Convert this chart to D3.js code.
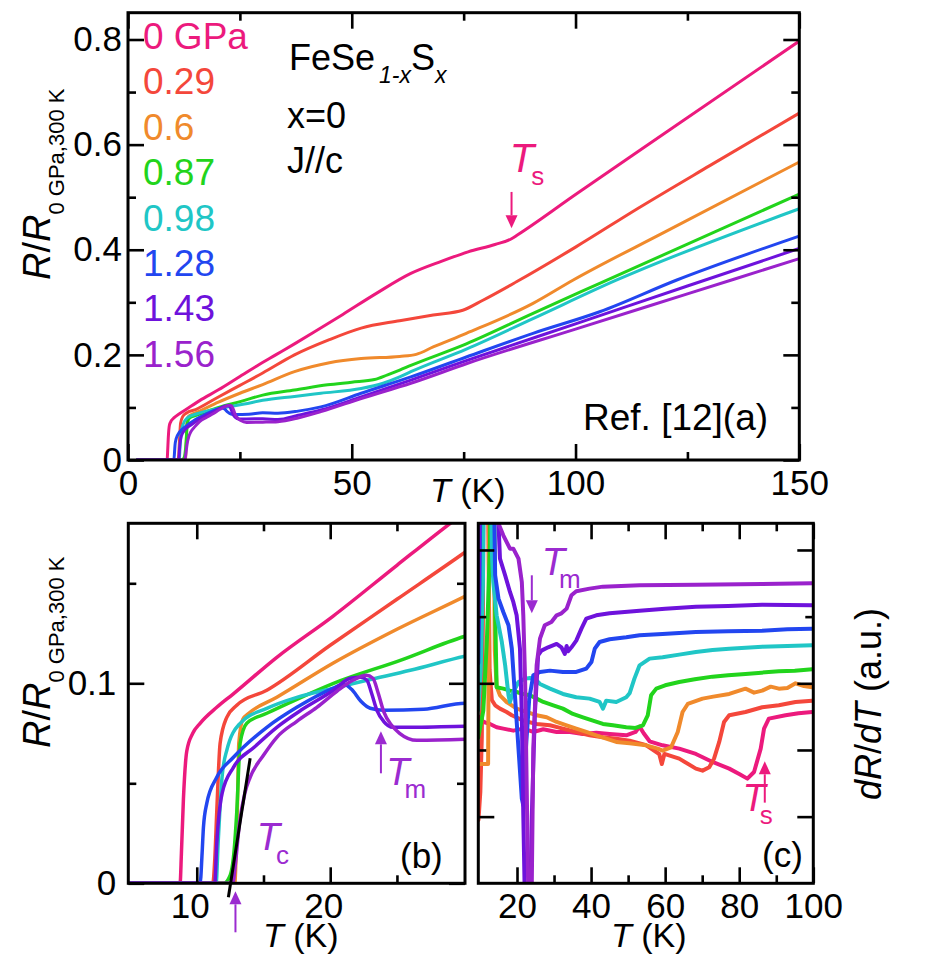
<!DOCTYPE html>
<html><head><meta charset="utf-8">
<script src="https://d3js.org/d3.v7.min.js"></script>
<style>
body{margin:0;background:#fff}
svg{display:block}
text{font-family:"Liberation Sans",Arial,Helvetica,sans-serif;fill:#000}
</style>
</head><body>
<svg id="chart" width="946" height="975"></svg>
<script>
// ---------------- DATA ----------------
const pressures = ["0 GPa","0.29","0.6","0.87","0.98","1.28","1.43","1.56"];
const colors = ["#ec1a7d","#f4473b","#f08a2c","#22d41c","#20c6c6","#2246f0","#6e12dc","#9a22cc"];

// R / R(0 GPa, 300 K) versus T (K)
const r000 = [[2,0],[8.75,0],[8.85,0.015],[9.0,0.042],[9.25,0.066],[9.7,0.075],[10.25,0.08],[11.5,0.088],[12.7,0.0945],[16,0.113],[20.2,0.1335],[25,0.159],[28.8,0.179],[33,0.2],[37.2,0.221],[41.5,0.243],[48,0.277],[55.5,0.317],[63.2,0.355],[70,0.378],[76,0.396],[82,0.41],[85.7,0.421],[87,0.428],[100,0.505],[120,0.622],[150,0.797]];
const r029 = [[2,0],[11.2,0],[11.35,0.012],[11.5,0.036],[11.75,0.07],[12.25,0.083],[13,0.089],[15.25,0.0965],[20,0.119],[25,0.142],[30.1,0.1655],[37.2,0.2],[45,0.229],[52.1,0.251],[60.7,0.265],[68.2,0.276],[74.8,0.285],[79.3,0.304],[86.8,0.339],[100,0.405],[114,0.479],[130,0.56],[150,0.66]];
const r060 = [[2,0],[12.85,0],[12.95,0.015],[13.05,0.04],[13.15,0.07],[13.45,0.082],[13.9,0.085],[16,0.093],[20.2,0.11],[25,0.127],[30.1,0.1435],[37.2,0.168],[45,0.185],[52.1,0.193],[60.7,0.197],[64.4,0.201],[68.2,0.215],[75.6,0.241],[90.5,0.298],[99.4,0.342],[120,0.434],[150,0.567]];
const r087 = [[2,0],[12.0,0],[12.5,0.004],[12.75,0.013],[13.0,0.036],[13.25,0.07],[13.75,0.08],[15.25,0.085],[17.5,0.092],[20.25,0.1],[25.25,0.1115],[30.1,0.1235],[37.2,0.133],[44.6,0.143],[50,0.148],[55.1,0.153],[58,0.162],[60.7,0.171],[63.2,0.18],[75.6,0.221],[90.5,0.279],[105.4,0.336],[150,0.506]];
const r098 = [[2,0],[11.45,0],[11.6,0.02],[11.9,0.0535],[12.25,0.0665],[13.25,0.08],[15.25,0.0875],[17.5,0.093],[20.25,0.0975],[22.75,0.1015],[26,0.1065],[30.1,0.1135],[37.2,0.121],[43.1,0.127],[52.1,0.136],[57,0.146],[60.7,0.158],[63.2,0.168],[75.6,0.211],[90.5,0.269],[109.1,0.342],[150,0.478]];
const r128 = [[2,0],[10.25,0],[10.4,0.015],[10.5,0.028],[10.75,0.04],[11.5,0.053],[12.75,0.063],[15.25,0.078],[17.5,0.088],[20.2,0.0975],[21,0.0995],[21.6,0.097],[22.3,0.091],[23,0.0875],[24,0.0865],[27,0.087],[30.1,0.09],[33.5,0.089],[38,0.093],[43.1,0.101],[52.1,0.127],[63.2,0.158],[75.6,0.196],[90.5,0.241],[105.4,0.282],[122.5,0.342],[150,0.426]];
const r143 = [[2,0],[11.35,0],[11.5,0.02],[11.9,0.045],[12.75,0.058],[14.3,0.068],[16,0.078],[17.8,0.0865],[20.25,0.0965],[21.5,0.1025],[22.3,0.103],[22.75,0.1015],[23.1,0.095],[23.5,0.0865],[24,0.081],[24.7,0.078],[26.5,0.078],[30.1,0.0785],[33.5,0.077],[38,0.085],[43.1,0.095],[52.1,0.12],[63.2,0.152],[75.9,0.19],[100,0.259],[125,0.331],[150,0.4025]];
const r156 = [[2,0],[12.7,0],[12.9,0.01],[13.2,0.03],[13.6,0.045],[14,0.053],[15,0.064],[16,0.073],[17.5,0.081],[19,0.088],[20.5,0.096],[21.7,0.1015],[22.7,0.104],[23.2,0.1025],[23.6,0.095],[24,0.086],[24.6,0.079],[25.2,0.075],[26.5,0.0715],[30.1,0.072],[33.5,0.073],[38,0.08],[43.1,0.092],[52.1,0.117],[63.2,0.146],[75.9,0.184],[100,0.249],[125,0.316],[150,0.383]];

// dR/dT (arbitrary units, curves offset) versus T (K)
const d000 = [[9.6,2.5],[10.3,2.44],[11.5,2.41],[12.7,2.39],[14.5,2.34],[16.3,2.32],[19,2.29],[21.7,2.32],[24.4,2.27],[27.1,2.31],[30.7,2.27],[34.3,2.27],[37.8,2.24],[41.4,2.26],[45,2.24],[49.5,2.22],[52,2.27],[53.1,2.35],[54.2,2.25],[55.8,2.13],[59.3,2.07],[63.8,2.02],[68.3,1.94],[72.8,1.82],[77.3,1.72],[80,1.64],[82.2,1.57],[84,1.67],[85.8,2.02],[86.7,2.32],[88,2.47],[92.5,2.52],[96,2.55],[99.7,2.57]];
const d029 = [[9.6,0.95],[10.1,1.37],[10.5,2.2],[10.8,4],[11.0,7],[12.0,7],[12.6,3.2],[13.2,2.75],[14.1,2.67],[15.4,2.62],[17.2,2.57],[18.6,2.52],[21.7,2.44],[25.3,2.39],[28.9,2.37],[32.4,2.32],[36,2.27],[39.6,2.22],[43.2,2.19],[46.8,2.17],[50.4,2.14],[54.9,2.07],[58.4,1.94],[59.1,1.79],[59.8,1.94],[63.8,1.87],[68.3,1.72],[70.1,1.69],[71.9,1.74],[73.2,1.87],[74.6,2.12],[75.9,2.42],[77.3,2.52],[81.7,2.57],[86.2,2.64],[90.7,2.67],[95.2,2.72],[99.7,2.74]];
const d060 = [[9.6,1.79],[12.2,1.79],[12.4,4],[12.6,7],[13.6,7],[14.0,3.5],[14.5,2.95],[15.4,2.82],[17.2,2.72],[19.9,2.62],[22.6,2.57],[25.3,2.52],[28,2.49],[30.7,2.42],[33.4,2.37],[36,2.32],[38.7,2.27],[41.4,2.22],[44.1,2.17],[46.8,2.12],[50.4,2.1],[54.9,2.07],[58,2.02],[59.3,1.99],[61.6,2.04],[63.4,2.27],[64.7,2.57],[66.1,2.69],[70.1,2.77],[73,2.8],[77.3,2.84],[81.7,2.92],[84,2.86],[86.2,2.89],[88.5,2.95],[90.7,2.92],[93,2.93],[95.2,3.0],[97.5,2.96],[99.7,2.94]];
const d087 = [[9.55,2.19],[10.9,2.59],[11.9,3.69],[12.7,5.09],[13,7],[13.6,7],[14.1,4.09],[14.5,2.94],[16.3,2.92],[18.1,2.89],[19.9,2.87],[21.7,2.84],[23.5,2.82],[25.3,2.77],[27.1,2.72],[29.8,2.67],[32.4,2.62],[35.1,2.54],[37.8,2.49],[40.5,2.44],[43.2,2.39],[45.9,2.37],[49.5,2.34],[52,2.33],[54,2.37],[55.3,2.52],[56.2,2.82],[57.6,2.92],[60,2.97],[63.8,3.02],[68,3.06],[72.8,3.1],[77,3.12],[81.7,3.14],[86,3.16],[90.7,3.18],[95,3.19],[99.7,3.21]];
const d098 = [[9.55,2.6],[10.2,3.2],[10.8,4.5],[11.2,7],[12.8,7],[13.2,4.97],[13.6,4.52],[14.5,4.02],[15.9,3.62],[16.8,3.27],[17.7,2.82],[18.1,2.72],[19,2.87],[20.4,3.02],[22.2,3.07],[23.5,3.08],[24.8,3.07],[26.2,2.99],[28.9,2.92],[32.4,2.84],[36,2.79],[39.6,2.77],[42.3,2.72],[43.2,2.62],[44.1,2.74],[46.8,2.72],[49.5,2.79],[50.4,2.85],[51.7,3.07],[53.1,3.27],[55.8,3.37],[59.3,3.39],[63.8,3.43],[68.3,3.47],[72.8,3.5],[77.3,3.52],[86.2,3.55],[93,3.56],[99.7,3.57]];
const d128 = [[9.55,3.3],[9.9,4.5],[10.3,7],[13.5,7],[14.1,4.62],[15,4.27],[16.3,4.07],[17.7,3.87],[18.6,3.52],[19.5,2.77],[20.4,2.02],[21.3,1.27],[21.7,1.17],[22.4,2.02],[23.3,2.77],[24.4,3.12],[26.2,3.17],[28.9,3.19],[32.4,3.17],[36,3.17],[38.7,3.22],[40.1,3.32],[41,3.52],[42.3,3.62],[45,3.66],[49.5,3.69],[53.1,3.72],[59.3,3.74],[68.3,3.77],[77,3.78],[86.2,3.79],[93,3.81],[99.7,3.82]];
const d143 = [[9.55,3.8],[9.8,5],[10.1,7],[13.8,7],[15.4,4.87],[16.8,4.62],[18.1,4.37],[19,4.22],[19.9,4.02],[20.8,3.52],[21.3,2.52],[21.7,1.02],[22.2,-0.5],[22.8,-1.5],[23.5,-0.5],[24,1.0],[24.8,2.52],[25.7,3.42],[26.6,3.49],[28.4,3.54],[30.7,3.59],[32,3.54],[32.9,3.44],[33.4,3.56],[33.8,3.48],[34.7,3.54],[36,3.64],[37.4,3.82],[38.7,3.97],[41.4,4.02],[45,4.05],[53.1,4.09],[60,4.12],[68.3,4.15],[77,4.16],[86.2,4.18],[99.7,4.17]];
const d156 = [[9.55,7],[14.3,7],[14.6,5.45],[16.3,5.22],[18.1,5.02],[19,5.02],[20.4,4.87],[21.3,4.52],[21.7,4.02],[22.2,3.02],[22.6,1.52],[23.0,0.02],[23.4,-1.5],[23.7,-0.5],[24,0.02],[24.4,2.02],[25.3,3.27],[26.2,3.67],[27.5,3.87],[29.3,3.92],[30.7,4.02],[32,4.05],[33.4,4.12],[34.7,4.32],[36,4.38],[39.6,4.42],[43.2,4.45],[53.1,4.47],[68.3,4.48],[86.2,4.49],[99.7,4.5]];

// Tc extrapolation line (panel b)
const tcFit = [[12.37,-0.007],[14.0,0.0625]];

// Tick values
const aXMajor = [0,50,100,150], aXMinor = [25,75,125];
const aYMajor = [0,0.2,0.4,0.6,0.8], aYMinor = [0.1,0.3,0.5,0.7];
const bXMajor = [10,20], bXMinor = [15,25];
const bYMajor = [0,0.1], bYMinor = [0.05,0.15];
const cXMajor = [20,40,60,80,100], cXMinor = [30,50,70,90];
const cYMajorL = [1,3,5], cYMinorL = [2,4], cYMajorR = [1,2,3,5], cYMinorR = [4];

const seriesR = [r000,r029,r060,r087,r098,r128,r143,r156];
const seriesD = [d000,d029,d060,d087,d098,d128,d143,d156];

// ---------------- DRAWING ----------------
const svg = d3.select("#chart");
const FONT = "Liberation Sans, Arial, Helvetica, sans-serif";

const boxA = {x0:128, y0:12.7, x1:799.3, y1:460};
const boxB = {x0:128.3, y0:523.3, x1:465, y1:883.3};
const boxC = {x0:478.3, y0:523.3, x1:813.3, y1:883.3};

const xA = d3.scaleLinear().domain([0,150]).range([boxA.x0, boxA.x1]);
const yA = d3.scaleLinear().domain([0,0.851]).range([boxA.y1, boxA.y0]);
const xB = d3.scaleLinear().domain([4.87,30.1]).range([boxB.x0, boxB.x1]);
const yB = d3.scaleLinear().domain([0,0.18]).range([boxB.y1, boxB.y0]);
const xC = d3.scaleLinear().domain([9.55,100]).range([boxC.x0, boxC.x1]);
const yC = d3.scaleLinear().domain([0,5.4]).range([boxC.y1, boxC.y0]);

const defs = svg.append("defs");
function clip(id, b){
  defs.append("clipPath").attr("id",id).append("rect")
    .attr("x",b.x0).attr("y",b.y0).attr("width",b.x1-b.x0).attr("height",b.y1-b.y0);
}
clip("clipA",boxA); clip("clipB",boxB); clip("clipC",boxC);

function drawSeries(list, x, y, clipId, width, curve){
  const line = d3.line().x(d=>x(d[0])).y(d=>y(d[1])).curve(curve);
  const g = svg.append("g").attr("clip-path",`url(#${clipId})`);
  list.forEach((s,i)=>{
    g.append("path").datum(s).attr("d",line).attr("fill","none")
      .attr("stroke",colors[i]).attr("stroke-width",width)
      .attr("stroke-linejoin","round").attr("stroke-linecap","round");
  });
}
drawSeries(seriesR, xA, yA, "clipA", 3, d3.curveMonotoneX);
drawSeries(seriesR, xB, yB, "clipB", 3.5, d3.curveMonotoneX);
drawSeries(seriesD, xC, yC, "clipC", 4, d3.curveLinear);

// Tc fit line
svg.append("path").datum(tcFit)
  .attr("d", d3.line().x(d=>xB(d[0])).y(d=>yB(d[1])))
  .attr("stroke","#000").attr("stroke-width",3).attr("fill","none");

// frames
[boxA,boxB,boxC].forEach(b=>{
  svg.append("rect").attr("x",b.x0).attr("y",b.y0).attr("width",b.x1-b.x0).attr("height",b.y1-b.y0)
    .attr("fill","none").attr("stroke","#000").attr("stroke-width",3);
});

function styleAxis(sel, fs){
  sel.select(".domain").remove();
  sel.attr("font-family",null).attr("font-size",null);
  sel.selectAll("line").attr("stroke","#000").attr("stroke-width",2.6);
  sel.selectAll("text").style("font-size",fs+"px").style("font-family",FONT).attr("fill","#000");
}
function axes(x, y, b, o){
  const fs = 35;
  const gb = svg.append("g").attr("transform",`translate(0,${b.y1})`)
    .call(d3.axisBottom(x).tickValues(o.xMajor).tickSize(-16).tickPadding(10).tickFormat(o.xFmt));
  styleAxis(gb, fs);
  if (o.xDx) gb.selectAll("text").attr("dx", o.xDx);
  styleAxis(svg.append("g").attr("transform",`translate(0,${b.y1})`)
    .call(d3.axisBottom(x).tickValues(o.xMinor).tickSize(-8).tickFormat("")), fs);
  styleAxis(svg.append("g").attr("transform",`translate(0,${b.y0})`)
    .call(d3.axisTop(x).tickValues(o.xMajor).tickSize(-16).tickFormat("")), fs);
  styleAxis(svg.append("g").attr("transform",`translate(0,${b.y0})`)
    .call(d3.axisTop(x).tickValues(o.xMinor).tickSize(-8).tickFormat("")), fs);
  styleAxis(svg.append("g").attr("transform",`translate(${b.x0},0)`)
    .call(d3.axisLeft(y).tickValues(o.yMajorL).tickSize(-16).tickPadding(o.yPad).tickFormat(o.yFmt)), fs);
  styleAxis(svg.append("g").attr("transform",`translate(${b.x0},0)`)
    .call(d3.axisLeft(y).tickValues(o.yMinorL).tickSize(-8).tickFormat("")), fs);
  styleAxis(svg.append("g").attr("transform",`translate(${b.x1},0)`)
    .call(d3.axisRight(y).tickValues(o.yMajorR).tickSize(-16).tickFormat("")), fs);
  styleAxis(svg.append("g").attr("transform",`translate(${b.x1},0)`)
    .call(d3.axisRight(y).tickValues(o.yMinorR).tickSize(-8).tickFormat("")), fs);
}
const fmtY = d => d===0 ? "0" : d3.format(".1f")(d);
axes(xA, yA, boxA, {xMajor:aXMajor, xMinor:aXMinor, xFmt:d3.format("d"),
  yMajorL:aYMajor, yMinorL:aYMinor, yMajorR:aYMajor, yMinorR:aYMinor, yPad:6, yFmt:fmtY});
axes(xB, yB, boxB, {xMajor:bXMajor, xMinor:bXMinor, xFmt:d3.format("d"), xDx:-7,
  yMajorL:bYMajor, yMinorL:bYMinor, yMajorR:bYMajor, yMinorR:bYMinor, yPad:12, yFmt:fmtY});
axes(xC, yC, boxC, {xMajor:cXMajor, xMinor:cXMinor, xFmt:d3.format("d"),
  yMajorL:cYMajorL, yMinorL:cYMinorL, yMajorR:cYMajorR, yMinorR:cYMinorR, yPad:8, yFmt:()=>""});

// legend (pressures)
pressures.forEach((p,i)=>{
  svg.append("text").attr("x",143).attr("y",49+i*45.4).style("font-size","37px")
    .attr("fill",colors[i]).style("fill",colors[i]).text(p);
});

// sample info
const info = svg.append("text").attr("x",289).attr("y",70).style("font-size","36px");
info.append("tspan").text("FeSe");
info.append("tspan").attr("dx",4).attr("dy",13).style("font-size","23px").style("font-style","italic").text("1-x");
info.append("tspan").attr("dy",-13).text("S");
info.append("tspan").attr("dy",13).style("font-size","23px").style("font-style","italic").text("x");
svg.append("text").attr("x",287).attr("y",128).style("font-size","36px").text("x=0");
svg.append("text").attr("x",287).attr("y",173).style("font-size","36px").text("J//c");
svg.append("text").attr("x",583).attr("y",430).style("font-size","37px").text("Ref. [12](a)");
svg.append("text").attr("x",400).attr("y",868).style("font-size","35px").text("(b)");
svg.append("text").attr("x",762).attr("y",867).style("font-size","35px").text("(c)");

// axis titles
function yTitle(tx, ty){
  const t = svg.append("text").attr("transform",`translate(${tx},${ty}) rotate(-90)`).style("font-size","38px");
  t.append("tspan").style("font-style","italic").text("R");
  t.append("tspan").text("/");
  t.append("tspan").style("font-style","italic").text("R");
  t.append("tspan").attr("dy",14).style("font-size","22px").text("0 GPa,300 K");
}
yTitle(50, 280);
yTitle(50, 748);
function tTitle(x, y){
  const t = svg.append("text").attr("x",x).attr("y",y).style("font-size","34px");
  t.append("tspan").style("font-style","italic").text("T");
  t.append("tspan").text(" (K)");
}
tTitle(430, 502); tTitle(263, 947); tTitle(611, 947);
const dt = svg.append("text").attr("transform","translate(881,800) rotate(-90)").style("font-size","36px");
dt.append("tspan").style("font-style","italic").text("dR");
dt.append("tspan").text("/");
dt.append("tspan").style("font-style","italic").text("dT");
dt.append("tspan").text(" (a.u.)");

// annotations
function sym(x, y, main, sub, col, fsMain, fsSub, subDx, subDy){
  const t = svg.append("text").attr("x",x).attr("y",y).style("font-size",fsMain+"px").style("fill",col);
  t.append("tspan").style("font-style","italic").text(main);
  t.append("tspan").attr("dx",subDx).attr("dy",subDy).style("font-size",fsSub+"px").text(sub);
}
function arrow(x, yFrom, yTo, col, w, head){
  const dir = yTo > yFrom ? 1 : -1;
  svg.append("line").attr("x1",x).attr("x2",x).attr("y1",yFrom).attr("y2",yTo - dir*head)
    .attr("stroke",col).attr("stroke-width",w);
  svg.append("path").attr("d",`M${x-6},${yTo-dir*head} L${x+6},${yTo-dir*head} L${x},${yTo} Z`).attr("fill",col);
}
const PINK = colors[0], VIO = "#9b2bd0";
// Ts top panel
sym(xA(85.3), yA(0.548), "T", "s", PINK, 40, 26, -3, 13);
arrow(xA(85.7), yA(0.51), yA(0.441), PINK, 2, 13);
// Tc, Tm panel b
sym(xB(14.5), yB(0.0165), "T", "c", VIO, 38, 26, -4, 14);
arrow(xB(12.9), yB(-0.0245), yB(-0.004), VIO, 2, 13);
sym(xB(24.2), yB(0.049), "T", "m", VIO, 38, 26, -5, 13);
arrow(xB(23.8), yB(0.055), yB(0.076), VIO, 2, 13);
// Tm, Ts panel c
sym(xC(26.7), yC(4.62), "T", "m", VIO, 38, 26, -6, 13);
arrow(xC(24), yC(4.62), yC(4.05), VIO, 2, 13);
sym(xC(80.9), yC(1.09), "T", "s", PINK, 38, 26, -6, 13);
arrow(xC(86.9), yC(1.21), yC(1.83), PINK, 2, 13);
</script>
</body></html>
